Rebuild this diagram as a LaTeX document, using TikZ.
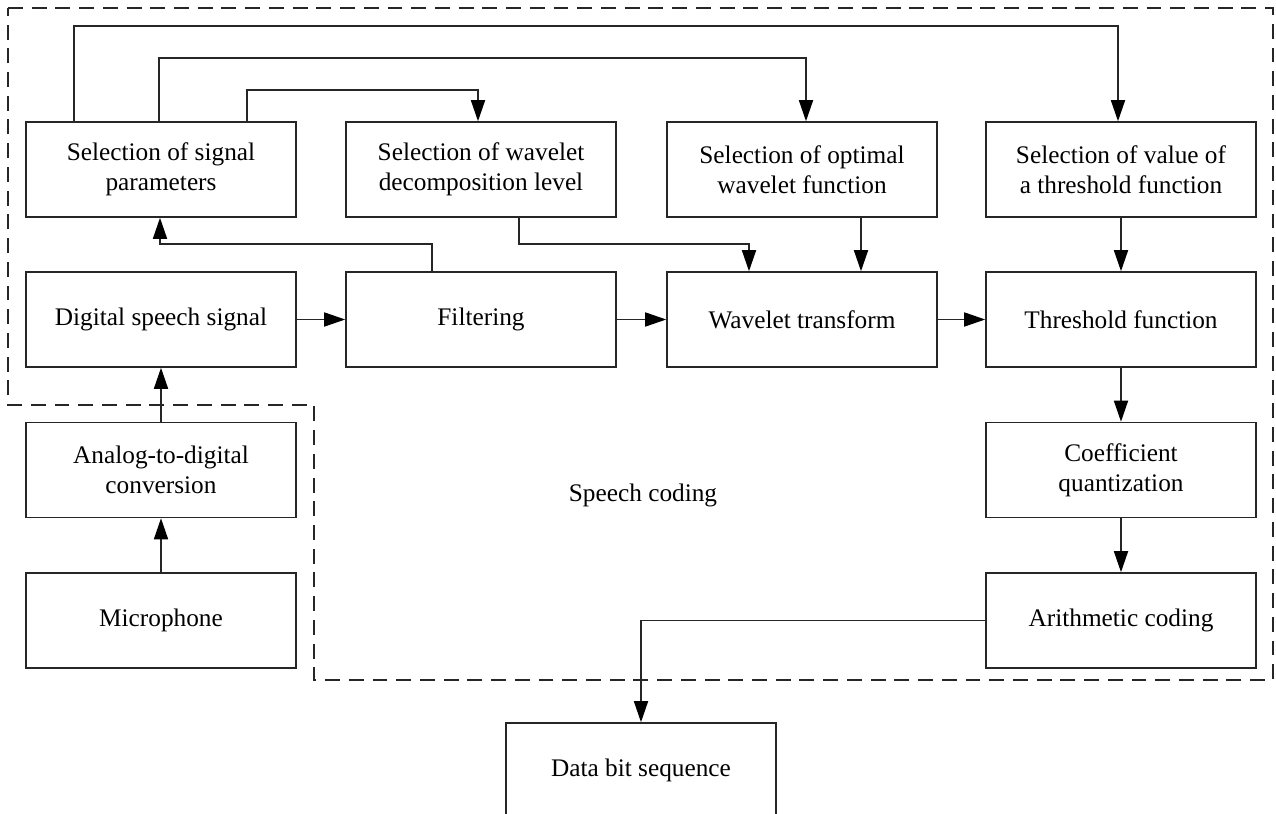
\documentclass[tikz,border=0pt]{standalone}
\usepackage{fontspec}
\setmainfont{Liberation Serif}
\usetikzlibrary{arrows.meta,calc}
\begin{document}
\begin{tikzpicture}[x=0.02cm,y=-0.02cm,
  blk/.style={draw=black!85,line width=0.9pt,minimum width=5.4cm,minimum height=1.9cm,
    align=center,inner sep=0pt,font=\fontsize{14.4}{17}\selectfont,text=black},
  arr/.style={draw=black!85,line width=0.9pt,-{Triangle[length=12pt,width=8pt,fill=black,color=black]}},
  ln/.style={draw=black!85,line width=0.9pt},
  bound/.style={draw=black!85,line width=1.5pt,dash pattern=on 8.5pt off 5pt}]
\useasboundingbox (0,0) rectangle (1276,814);
% dashed boundary
\draw[bound] (8,8) -- (1273,8) -- (1273,680) -- (314,680) -- (314,405) -- (8,405) -- cycle;
% row 1
\node[blk] (sp) at (161,169.5) {Selection of signal\\parameters};
\node[blk] (wd) at (481,169.5) {Selection of wavelet\\decomposition level};
\node[blk] (ow) at (802,169.5) {Selection of optimal\\wavelet function};
\node[blk] (vt) at (1121,169.5) {Selection of value of\\a threshold function};
% row 2
\node[blk] (ds) at (161,319.5) {Digital speech signal};
\node[blk] (fi) at (481,319.5) {Filtering};
\node[blk] (wt) at (802,319.5) {Wavelet transform};
\node[blk] (tf) at (1121,319.5) {Threshold function};
% row 3,4
\node[blk] (ad) at (161,470) {Analog-to-digital\\conversion};
\node[blk] (cq) at (1121,470) {Coefficient\\quantization};
\node[blk] (mi) at (161,620.5) {Microphone};
\node[blk] (ac) at (1121,620.5) {Arithmetic coding};
\node[blk] (db) at (641,770.5) {Data bit sequence};
\node[font=\fontsize{14.4}{17}\selectfont] (lbl) at (643,495) {Speech coding};
% feedback / selection connectors
\draw[arr] ($(sp.north)+(-87,0)$) -- ++(0,-95) -| ($(vt.north)+(-3,0)$);
\draw[arr] ($(sp.north)+(-2,0)$) -- ++(0,-63) -| ($(ow.north)+(4,0)$);
\draw[arr] ($(sp.north)+(86,0)$) -- ++(0,-31) -| ($(wd.north)+(-3,0)$);
\draw[arr] ($(fi.north)+(-49,0)$) -- ++(0,-27) -| ($(sp.south)+(-1,0)$);
\draw[arr] ($(wd.south)+(38,0)$) -- ++(0,26) -| ($(wt.north)+(-53,0)$);
\draw[arr] ($(ow.south)+(59,0)$) -- ($(wt.north)+(59,0)$);
\draw[arr] (vt.south) -- (tf.north);
% main chain
\draw[arr] (ds.east) -- (fi.west);
\draw[arr] (fi.east) -- (wt.west);
\draw[arr] (wt.east) -- (tf.west);
\draw[arr] (tf.south) -- (cq.north);
\draw[arr] (cq.south) -- (ac.north);
\draw[arr] (mi.north) -- (ad.south);
\draw[arr] (ad.north) -- (ds.south);
\draw[arr] (ac.west) -| (db.north);
\end{tikzpicture}
\end{document}
